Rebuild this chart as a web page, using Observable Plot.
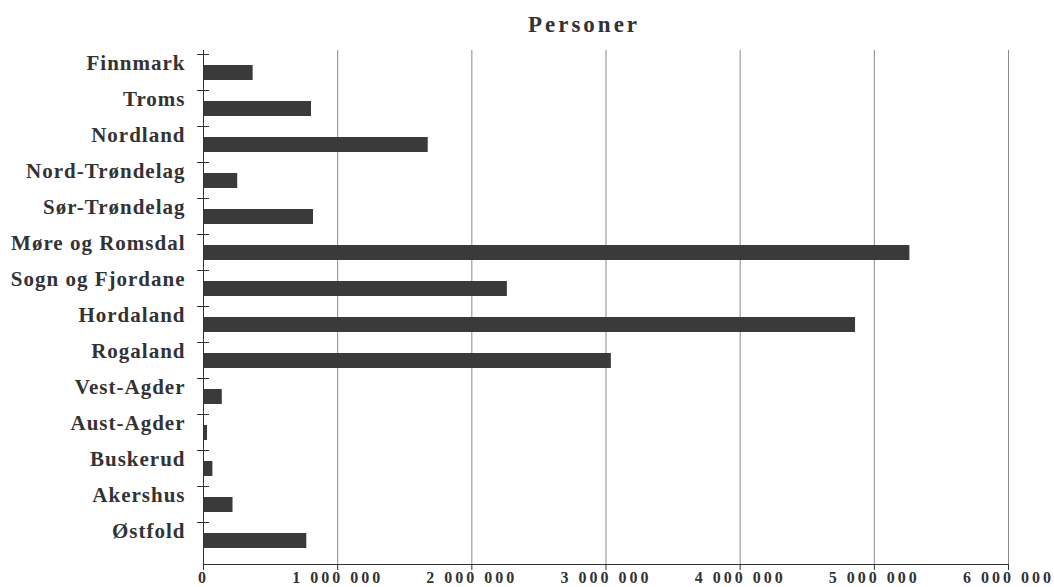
<!DOCTYPE html>
<html>
<head>
<meta charset="utf-8">
<script src="https://cdn.jsdelivr.net/npm/d3@7"></script>
<script src="https://cdn.jsdelivr.net/npm/@observablehq/plot@0.6"></script>
<style>
  body { margin: 0; background: #fff; }
  #title { height: 40px; width: 1054px; box-sizing: border-box; padding-left: 114px; text-align: center;
           font-family: "Liberation Serif", "Times New Roman", serif; font-weight: bold; font-size: 23px;
           letter-spacing: 3px; color: #333; line-height: 23px; padding-top: 13px; }
  g[aria-label="y-axis tick label"] text { letter-spacing: 1px; }
  g[aria-label="x-axis tick label"] text { letter-spacing: 3px; }
</style>
</head>
<body>
<div id="title">Personer</div>
<div id="chart"></div>
<script>
const counties = ["Finnmark", "Troms", "Nordland", "Nord-Trøndelag", "Sør-Trøndelag", "Møre og Romsdal",
  "Sogn og Fjordane", "Hordaland", "Rogaland", "Vest-Agder", "Aust-Agder", "Buskerud", "Akershus", "Østfold"];
const persons = [370000, 805000, 1675000, 255000, 820000, 5265000,
  2265000, 4860000, 3040000, 140000, 30000, 70000, 220000, 770000];
const xTicks = [0, 1000000, 2000000, 3000000, 4000000, 5000000, 6000000];

const data = counties.map((name, i) => ({name, value: persons[i]}));

const W = 1054, H = 547, mT = 10, mB = 23, mL = 203, mR = 46;
const fmt = d => d === 0 ? "0" : d3.format(",")(d).replace(/,/g, " ");

// boundary ticks on the y axis, drawn from Plot's own y scale
const bandTicks = (index, scales, values, dimensions) => {
  const g = d3.create("svg:g").attr("stroke", "#333").attr("stroke-width", 1);
  const y = scales.y;
  const step = (dimensions.height - dimensions.marginTop - dimensions.marginBottom) / counties.length;
  const x0 = dimensions.marginLeft;
  for (const c of counties) {
    const yy = Math.round(y(c) + (y.bandwidth ? y.bandwidth() : 0) / 2 - step / 2) + 0.5;
    g.append("line").attr("x1", x0 - 6).attr("x2", x0 + 6).attr("y1", yy).attr("y2", yy);
  }
  return g.node();
};

const plot = Plot.plot({
  width: W, height: H,
  marginTop: mT, marginBottom: mB, marginLeft: mL, marginRight: mR,
  style: {fontFamily: "'Liberation Serif', 'Times New Roman', serif", fontWeight: "bold", color: "#333", background: "#fff"},
  x: {domain: [0, 6000000]},
  y: {domain: counties, paddingInner: 0.57, paddingOuter: 0.285},
  marks: [
    Plot.ruleX(xTicks.slice(1), {stroke: "#8a8a8a", strokeWidth: 1}),
    Plot.barX(data, {x: "value", y: "name", fill: "#3a3a3a"}),
    Plot.frame({anchor: "left", stroke: "#333"}),
    Plot.frame({anchor: "bottom", stroke: "#333"}),
    bandTicks,
    Plot.axisY({tickSize: 0, tickPadding: 18, fontSize: 21, dy: -10, fill: "#333", label: null}),
    Plot.axisX({ticks: xTicks, tickFormat: fmt, tickSize: 6, tickPadding: 1, fontSize: 16, label: null, fill: "#333", stroke: "#333"})
  ]
});
document.getElementById("chart").appendChild(plot);
</script>
</body>
</html>
